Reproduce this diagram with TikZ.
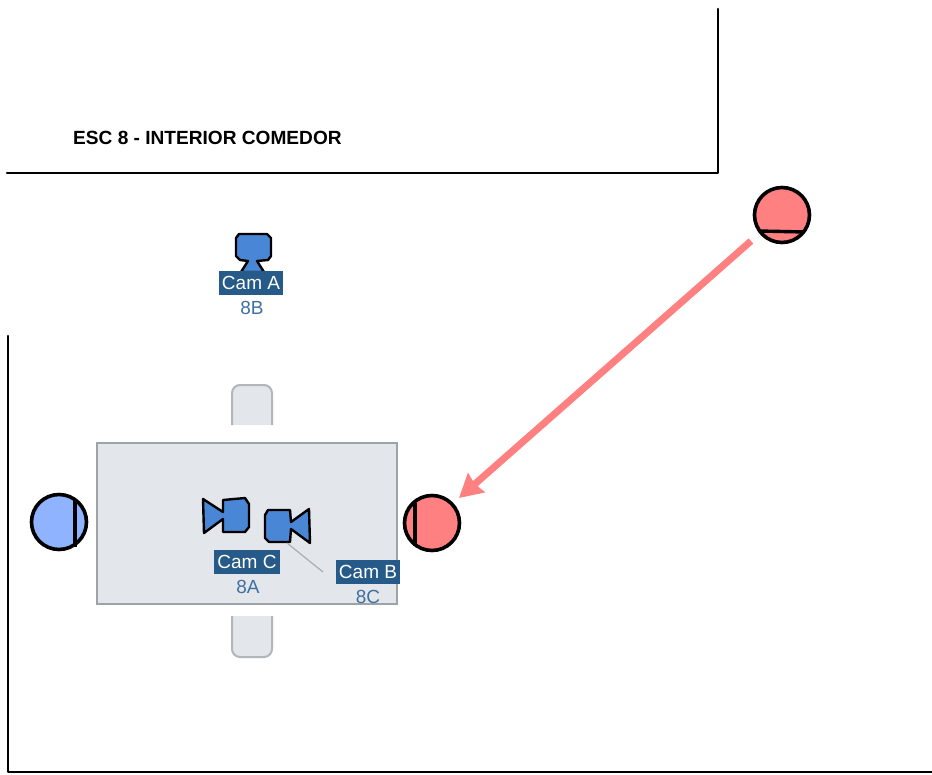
\documentclass[tikz,border=0pt]{standalone}
\usepackage{fontspec}
\setmainfont{Liberation Sans}
\usetikzlibrary{arrows.meta}
\definecolor{camfill}{HTML}{4A86D6}
\definecolor{labelbg}{HTML}{265A88}
\definecolor{subtxt}{HTML}{40709F}
\definecolor{tablefill}{HTML}{E3E7EB}
\definecolor{tableedge}{HTML}{9DA4A9}
\definecolor{redfill}{HTML}{FF8080}
\definecolor{bluefill}{HTML}{8FB3FF}
\tikzset{
  x=1pt,y=-1pt,
  wall/.style={draw=black,line width=2.6pt,line cap=round,line join=round},
  actor/.style={circle,draw=black,line width=3.6pt,minimum size=55pt,inner sep=0pt},
  mark line/.style={draw=black,line width=3.4pt},
  cam/.style={draw=black,fill=camfill,line width=2.4pt,line join=round},
  camlabel/.style={fill=labelbg,text=white,font=\fontsize{19}{20}\selectfont,inner sep=0pt,minimum width=64pt,minimum height=24pt},
  camsub/.style={text=subtxt,font=\fontsize{19}{20}\selectfont,inner sep=0pt},
  seat/.style={fill=tablefill,draw=tableedge!80,line width=2pt},
}
\begin{document}
\begin{tikzpicture}
\useasboundingbox (0,0) rectangle (932,774);
\fill[white] (0,0) rectangle (932,774);
% walls
\draw[wall] (7,173) -- (718,173) -- (718,9);
\draw[wall] (8,336) -- (8,772) -- (932,772);
\node[anchor=west,inner sep=0pt,font=\fontsize{19.1}{20}\selectfont\bfseries] (title) at (73,138) {ESC 8 - INTERIOR COMEDOR};
% chairs
\fill[tablefill,rounded corners=8pt] (232,440) -- (232,385) -- (272,385) -- (272,440) -- cycle;
\fill[white] (225,425) rectangle (280,442);
\draw[seat,fill=none,rounded corners=8pt] (232,425) -- (232,385) -- (272,385) -- (272,425);
\fill[tablefill,rounded corners=8pt] (232,600) -- (232,657) -- (272,657) -- (272,600) -- cycle;
\fill[white] (225,600) rectangle (280,616);
\draw[seat,fill=none,rounded corners=8pt] (232,616) -- (232,657) -- (272,657) -- (272,616);
% table
\draw[fill=tablefill,draw=tableedge,line width=2.6pt] (97,443) rectangle (397,604);
% actors
\node[actor,fill=bluefill] (blue) at (59,522) {};
\draw[mark line] (75,500) -- (75,547);
\node[actor,fill=redfill] (red) at (432,523) {};
\draw[mark line] (415,503) -- (415,546);
\node[actor,fill=redfill] (redtop) at (782,215) {};
\draw[mark line] (759,231) -- (805,232);
% movement arrow
\coordinate (arrowstart) at (751,241);
\coordinate (arrowend) at (459,498);
\draw[draw=redfill,line width=7pt,-{Stealth[length=23pt,width=25pt,inset=2pt]}] (arrowstart) -- (arrowend);
% Cam A
\draw[cam] (248,261) -- (241,272) -- (264,272) -- (257,261) -- (268,260) -- (271,256) -- (271,238) -- (267,234) -- (239,234) -- (236,238) -- (236,256) -- (240,260) -- cycle;
\node[camlabel] (camA) at (251,283) {Cam A};
\node[camsub] (subA) at (252,308) {8B};
% Cam C
\draw[cam] (203,499) -- (223,512) -- (223,500) -- (245,498) -- (249,504) -- (249,527) -- (245,532) -- (223,532) -- (223,519) -- (204,533) -- cycle;
\node[camlabel,minimum width=66pt] (camC) at (247,562) {Cam C};
\node[camsub] (subC) at (248,587) {8A};
% Cam B
\draw[cam] (265,515) -- (268,510) -- (290,510) -- (291,522) -- (309,509) -- (310,543) -- (291,529) -- (290,542) -- (269,542) -- (265,538) -- cycle;
\node[camlabel] (camB) at (368,572) {Cam B};
\node[camsub] (subB) at (368,597) {8C};
\coordinate (leadstart) at (287,543);
\coordinate (leadend) at (323,572);
\draw[draw=tableedge!90,line width=1.2pt] (leadstart) -- (leadend);
\end{tikzpicture}
\end{document}
